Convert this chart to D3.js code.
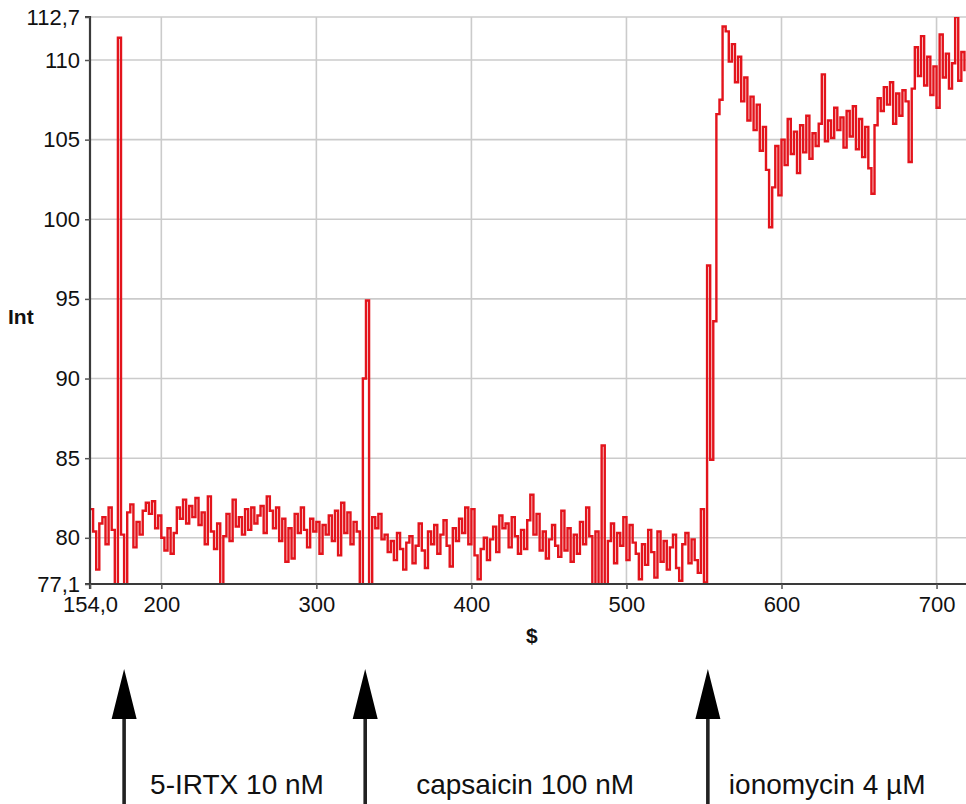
<!DOCTYPE html>
<html><head><meta charset="utf-8">
<script src="https://cdn.jsdelivr.net/npm/d3@7"></script>
<style>
body{margin:0;background:#fff}
svg{display:block;font-family:"Liberation Sans",Arial,Helvetica,sans-serif}
</style>
</head><body>
<svg id="chart" width="966" height="804"></svg>
<script>
// ---- data (sampled every 2 s from 154 s) ----
const startSec = 154;
const stepSec = 2;
const intensity = [
  81.8, 80.4, 78.0, 80.9, 81.3, 79.6, 81.9, 80.5, 77.0, 111.4,
  80.2, 77.0, 81.6, 82.1, 79.4, 81.0, 80.2, 81.7, 82.2, 81.5,
  82.3, 80.6, 81.4, 80.0, 79.2, 80.6, 79.0, 80.3, 81.9, 81.2,
  82.4, 80.9, 82.0, 81.3, 82.5, 80.8, 81.6, 79.6, 82.6, 80.4,
  79.3, 80.9, 77.0, 80.1, 81.5, 79.8, 82.4, 80.7, 81.3, 80.2,
  81.8, 80.5, 81.9, 80.9, 81.4, 82.0, 80.3, 82.6, 81.7, 80.6,
  81.9, 79.8, 81.2, 78.5, 80.6, 78.7, 81.5, 80.3, 81.9, 80.5,
  79.4, 81.2, 80.4, 81.0, 79.0, 80.8, 80.2, 81.4, 79.8, 81.7,
  78.9, 82.2, 80.3, 81.6, 79.6, 81.0, 80.4, 77.0, 90.0, 94.9,
  77.0, 81.3, 80.6, 81.5, 79.9, 80.2, 79.1, 79.8, 78.6, 80.3,
  79.3, 78.0, 79.7, 80.1, 78.4, 79.5, 80.9, 79.2, 78.1, 80.4,
  79.6, 80.8, 79.0, 80.2, 81.1, 79.5, 78.2, 80.6, 79.8, 81.2,
  80.3, 81.9, 79.6, 81.8, 78.9, 77.4, 79.3, 80.0, 78.6, 79.9,
  80.7, 79.1, 81.4, 80.6, 80.9, 79.4, 81.3, 80.1, 79.0, 80.5,
  79.3, 81.1, 82.7, 80.2, 81.5, 79.2, 80.4, 78.7, 79.9, 80.8,
  79.5, 78.8, 81.7, 79.2, 80.6, 78.5, 80.2, 79.0, 81.0, 79.6,
  81.9, 80.1, 77.0, 80.4, 77.0, 85.8, 77.0, 79.8, 80.9, 78.4,
  80.3, 79.5, 81.3, 78.6, 80.8, 79.7, 79.0, 77.4, 79.6, 78.3,
  80.5, 79.1, 77.5, 80.4, 78.5, 79.8, 78.0, 79.4, 80.2, 78.1,
  77.3, 79.6, 80.3, 78.4, 79.9, 78.6, 77.8, 81.8, 77.2, 97.1,
  84.9, 93.6, 106.6, 107.5, 112.1, 111.8, 109.9, 111.0, 108.6, 110.2,
  107.4, 108.9, 106.2, 107.7, 105.6, 107.2, 104.3, 105.8, 103.1, 99.5,
  102.0, 104.6, 101.5, 105.0, 103.4, 106.3, 104.1, 105.5, 102.9, 105.9,
  104.2, 106.5, 103.8, 105.4, 104.6, 106.0, 109.1, 104.9, 106.2, 105.1,
  107.0, 105.6, 106.4, 104.5, 106.8, 105.2, 107.1, 104.4, 106.3, 103.9,
  105.8, 103.2, 101.6, 105.9, 107.6, 106.8, 108.3, 107.2, 108.6, 106.0,
  107.9, 106.5, 108.1, 107.4, 103.6, 108.2, 110.8, 109.0, 111.5, 108.4,
  110.2, 107.8, 109.6, 107.0, 111.6, 108.9, 110.4, 108.2, 109.8, 112.7,
  108.7, 110.5, 109.3
];
const xDomain = [154, 719];
const yDomain = [77.1, 112.7];
const xTickValues = [154, 200, 300, 400, 500, 600, 700];
const xTickLabels = ["154,0", "200", "300", "400", "500", "600", "700"];
const yTickValues = [77.1, 80, 85, 90, 95, 100, 105, 110, 112.7];
const yTickLabels = ["77,1", "80", "85", "90", "95", "100", "105", "110", "112,7"];
const stimulusTimes = [176, 331.5, 552.5];
const stimulusLabels = ["5-IRTX 10 nM", "capsaicin 100 nM", "ionomycin 4 \u00b5M"];
const xAxisTitle = "$";
const yAxisTitle = "Int";

// ---- drawing ----
const svg = d3.select("#chart");
const L = 90, R = 966, T = 17, B = 584;
const x = d3.scaleLinear().domain(xDomain).range([L, R]);
const y = d3.scaleLinear().domain(yDomain).range([B, T]);
const data = intensity.map((v, i) => ({t: startSec + i * stepSec, v}));

// grid
const grid = svg.append("g").attr("stroke", "#cbcbcb").attr("stroke-width", 1.6);
grid.selectAll("line.v").data(xTickValues.filter(d => d !== xDomain[0])).join("line")
  .attr("x1", d => x(d)).attr("x2", d => x(d)).attr("y1", T).attr("y2", B);
grid.selectAll("line.h").data(yTickValues.filter(d => d !== yDomain[0])).join("line")
  .attr("x1", L).attr("x2", R).attr("y1", d => y(d)).attr("y2", d => y(d));

// trace
svg.append("clipPath").attr("id", "clip").append("rect")
  .attr("x", L).attr("y", T).attr("width", R - L).attr("height", B - T);
const line = d3.line().x(d => x(d.t)).y(d => y(d.v)).curve(d3.curveStepAfter);
svg.append("path").datum(data)
  .attr("clip-path", "url(#clip)")
  .attr("fill", "none").attr("stroke", "#e3141c").attr("stroke-width", 2.4)
  .attr("stroke-linejoin", "miter")
  .attr("d", line);

// axes
const yAxis = d3.axisLeft(y).tickValues(yTickValues)
  .tickFormat((d, i) => yTickLabels[i]).tickSize(5).tickPadding(5);
const gy = svg.append("g").attr("transform", `translate(${L},0)`).call(yAxis);
const xAxis = d3.axisBottom(x).tickValues(xTickValues)
  .tickFormat((d, i) => xTickLabels[i]).tickSize(5).tickPadding(7);
const gx = svg.append("g").attr("transform", `translate(0,${B})`).call(xAxis);
[gx, gy].forEach(g => {
  g.select(".domain").attr("stroke", "#3a3a3a").attr("stroke-width", 2.2);
  g.selectAll(".tick line").attr("stroke", "#555").attr("stroke-width", 1.5);
  g.selectAll(".tick text").attr("fill", "#111")
    .style("font-size", "22px").style("font-family", '"Liberation Sans",Arial,sans-serif');
});
gy.select(".domain").attr("d", `M-5,${T}H0V${B}H-5`);
gx.select(".domain").attr("d", `M${L},5V0H${R}`);

// axis titles
svg.append("text").attr("x", 8).attr("y", 324).text(yAxisTitle)
  .attr("font-weight", "bold").attr("font-size", 21).attr("fill", "#111");
svg.append("text").attr("x", x(439)).attr("y", 643).text(xAxisTitle)
  .attr("font-weight", "bold").attr("font-size", 21).attr("fill", "#111")
  .attr("text-anchor", "middle");

// stimulus arrows
const labelOffsets = [26, 51, 21];
const arr = svg.append("g");
stimulusTimes.forEach((t, i) => {
  const cx = x(t);
  arr.append("line").attr("x1", cx).attr("x2", cx).attr("y1", 712).attr("y2", 804)
    .attr("stroke", "#222").attr("stroke-width", 3.6);
  arr.append("path")
    .attr("d", `M${cx},669 L${cx - 12.5},719 L${cx + 12.5},719 Z`)
    .attr("fill", "#000");
  arr.append("text").attr("x", cx + labelOffsets[i]).attr("y", 794)
    .text(stimulusLabels[i]).attr("font-size", 28).attr("fill", "#111");
});
</script>
</body></html>
